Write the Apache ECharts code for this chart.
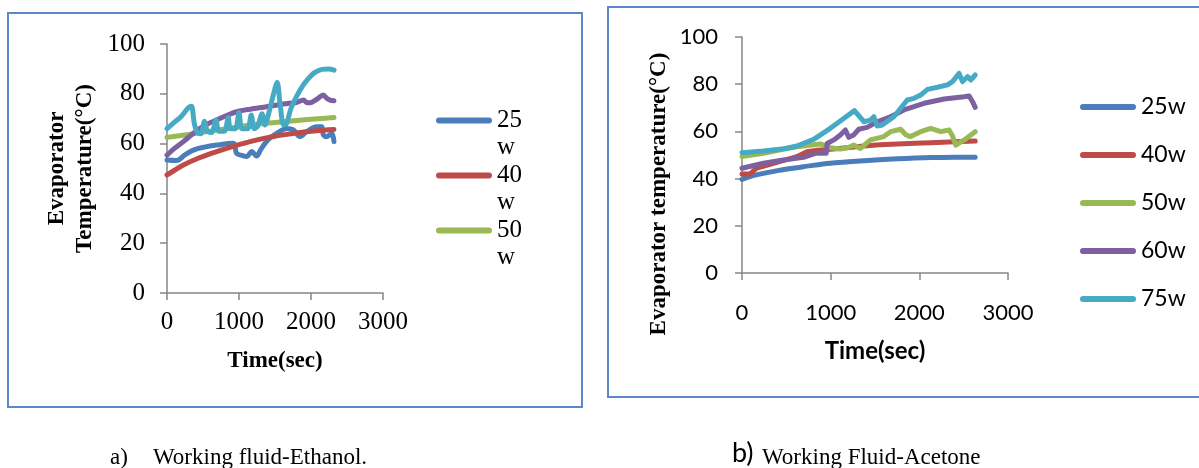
<!DOCTYPE html>
<html>
<head>
<meta charset="utf-8">
<script src="https://cdn.jsdelivr.net/npm/echarts@6/dist/echarts.min.js"></script>
<style>html,body{margin:0;padding:0;background:#fff;}#c{width:1199px;height:468px;}</style>
</head>
<body>
<div id="c"></div>
<script>
// ---- Data (time in s, temperature in °C) ----
const xTicks = [0, 1000, 2000, 3000];
const yTicks = [0, 20, 40, 60, 80, 100];
const ethanolNames = ['25 w', '40 w', '50 w', '60 w', '75 w'];
const acetoneNames = ['25w', '40w', '50w', '60w', '75w'];

const eth25 = [[0,53.4],[130,53.2],[250,55.5],[366,57.4],[520,58.6],[690,59.4],[921,60.1],[968,56],[1050,55.2],[1106,54.8],[1176,56.8],[1245,55],[1300,57.5],[1361,60.1],[1440,62.5],[1523,64.1],[1662,66.1],[1755,65.5],[1847,62.8],[1940,64.8],[2079,66.8],[2148,66.8],[2171,63.5],[2218,62.8],[2287,64.1],[2319,60.8]];
const eth40 = [[0,47.4],[100,49.2],[227,51.4],[450,54.3],[690,56.8],[920,58.9],[1153,60.8],[1380,62.3],[1616,63.5],[1850,64.5],[2079,65.2],[2319,65.7]];
const eth50 = [[0,62.5],[300,63.7],[600,65],[900,66.3],[1153,67.5],[1500,68.5],[1800,69.3],[2100,70],[2319,70.5]];
const eth60 = [[0,55.4],[100,58],[227,60.8],[340,63.5],[458,66.1],[570,68],[690,69.5],[820,71.2],[968,72.8],[1150,73.8],[1384,74.8],[1550,75.6],[1708,76.2],[1800,76.5],[1894,77.5],[1940,76.5],[1986,76.4],[2080,77.8],[2171,79.5],[2218,78.2],[2264,77.5],[2319,77.2]];
const eth75 = [[0,66],[100,68.5],[200,71],[300,74.5],[340,75],[380,68],[420,64.5],[470,64],[520,69],[560,65],[620,64.5],[680,69.5],[720,65],[800,65],[850,70.5],[880,66],[950,66],[1000,72.5],[1040,66],[1120,66],[1170,71.5],[1210,66],[1260,67],[1320,72],[1360,67.5],[1420,73],[1480,80],[1530,84.5],[1570,76],[1620,67.5],[1660,68],[1720,74],[1800,79],[1880,83],[1960,86],[2050,88.5],[2150,89.8],[2250,90],[2320,89.5]];

const ace25 = [[0,39.7],[100,41],[242,42.2],[420,43.5],[619,44.6],[800,45.6],[996,46.5],[1200,47.1],[1374,47.6],[1550,48],[1751,48.4],[1950,48.7],[2128,48.9],[2400,49],[2630,49]];
const ace40 = [[0,41.9],[91,42],[166,44.4],[355,46.5],[480,47.8],[619,49.3],[732,51.4],[850,52],[996,52.4],[1180,53.1],[1374,53.8],[1550,54.3],[1751,54.7],[1950,55],[2128,55.2],[2400,55.6],[2630,55.9]];
const ace50 = [[0,49.3],[242,50.7],[450,52.3],[619,53.5],[883,54.7],[996,53.1],[1109,52.5],[1200,53.2],[1260,54.2],[1336,52.8],[1449,56.4],[1600,57.8],[1675,59.9],[1789,60.9],[1850,58.5],[1902,57.8],[2015,59.9],[2128,61.3],[2242,59.9],[2336,60.6],[2374,58.1],[2411,54.2],[2506,56.4],[2630,59.9]];
const ace60 = [[0,44.4],[242,46.5],[450,47.8],[694,49],[826,50.7],[950,50.7],[960,54.9],[1040,56.5],[1109,58.5],[1166,60.6],[1204,57.5],[1260,58.5],[1317,60.9],[1411,61.7],[1525,64.1],[1675,66.2],[1826,69.1],[2053,71.9],[2279,73.7],[2506,74.7],[2562,75],[2600,72.6],[2630,70.2]];
const ace75 = [[0,51],[242,51.7],[450,52.5],[619,53.8],[808,56.6],[996,61.3],[1147,65.5],[1268,68.8],[1374,64.1],[1449,64.8],[1487,66.2],[1525,62.3],[1581,62.7],[1713,66.2],[1789,69.8],[1864,73.3],[1940,74],[2015,75.4],[2091,77.8],[2204,78.7],[2317,79.7],[2374,81.1],[2449,84.6],[2487,81.1],[2543,83.2],[2581,81.8],[2630,83.9]];

const colors = ['#4a7ebb', '#be4b48', '#98b954', '#7d60a0', '#46aac5'];
const ethanolData = [eth25, eth40, eth50, eth60, eth75];
const acetoneData = [ace25, ace40, ace50, ace60, ace75];
const smoothFlags = [0.35, 0.3, 0.3, 0.3, 0.3];
const smoothFlagsB = [0.3, false, false, false, false];

const serif = 'Liberation Serif, Times New Roman, serif';
const sans = 'Lato, Liberation Sans, sans-serif';
const axisGray = '#868686';
const plain = v => String(v);

function axisCommon() {
  return {
    type: 'value', min: 0,
    axisLine: { show: true, lineStyle: { color: axisGray, width: 1.5 } },
    axisTick: { show: true, inside: false, length: 7, lineStyle: { color: axisGray, width: 1.5 } },
    splitLine: { show: false }
  };
}

const series = [];
ethanolData.forEach((d, i) => series.push({
  name: ethanolNames[i], type: 'line', xAxisIndex: 0, yAxisIndex: 0, data: d,
  showSymbol: false, symbol: 'none', smooth: smoothFlags[i], color: colors[i],
  lineStyle: { width: 5, color: colors[i], cap: 'round', join: 'round' }
}));
acetoneData.forEach((d, i) => series.push({
  name: acetoneNames[i], type: 'line', xAxisIndex: 1, yAxisIndex: 1, data: d,
  showSymbol: false, symbol: 'none', smooth: smoothFlagsB[i], color: colors[i],
  lineStyle: { width: 5, color: colors[i], cap: 'round', join: 'round' }
}));

const barIcon = 'path://M3,0 H53 A3,3 0 0 1 53,6 H3 A3,3 0 0 1 3,0 Z';
const topBarIcon = 'path://M3,0 H53 A3,3 0 0 1 53,6 H3 A3,3 0 0 1 3,0 Z M28,33 L28.01,33 Z';

const chart = echarts.init(document.getElementById('c'), null, { renderer: 'canvas' });
chart.setOption({
  animation: false,
  backgroundColor: '#fff',
  grid: [
    { left: 167, top: 44, width: 216, height: 249, containLabel: false },
    { left: 742, top: 37, width: 266, height: 236, containLabel: false }
  ],
  xAxis: [
    Object.assign(axisCommon(), {
      gridIndex: 0, max: xTicks[xTicks.length - 1], interval: xTicks[1] - xTicks[0],
      name: 'Time(sec)', nameLocation: 'middle', nameGap: 57,
      nameTextStyle: { fontFamily: serif, fontWeight: 'bold', fontSize: 23, color: '#000' },
      axisLabel: { fontFamily: serif, fontSize: 25, color: '#000', margin: 17, formatter: plain }
    }),
    Object.assign(axisCommon(), {
      gridIndex: 1, max: xTicks[xTicks.length - 1], interval: xTicks[1] - xTicks[0],
      name: 'Time(sec)', nameLocation: 'middle', nameGap: 66,
      nameTextStyle: { fontFamily: sans, fontWeight: 'bold', fontSize: 24, color: '#000' },
      axisLabel: { fontFamily: sans, fontSize: 22, color: '#000', margin: 29, formatter: plain }
    })
  ],
  yAxis: [
    Object.assign(axisCommon(), {
      gridIndex: 0, max: yTicks[yTicks.length - 1], interval: yTicks[1] - yTicks[0],
      name: 'Evaporator\nTemperature(°C)', nameLocation: 'middle', nameGap: 68,
      nameTextStyle: { fontFamily: serif, fontWeight: 'bold', fontSize: 23, lineHeight: 28, color: '#000' },
      axisLabel: { fontFamily: serif, fontSize: 25, color: '#000', margin: 22, formatter: plain }
    }),
    Object.assign(axisCommon(), {
      gridIndex: 1, max: yTicks[yTicks.length - 1], interval: yTicks[1] - yTicks[0],
      name: 'Evaporator temperature(°C)', nameLocation: 'middle', nameGap: 71,
      nameTextStyle: { fontFamily: serif, fontWeight: 'bold', fontSize: 23, color: '#000', padding: [0, 78, 0, 0] },
      axisLabel: { fontFamily: sans, fontSize: 22, color: '#000', margin: 24, formatter: plain }
    })
  ],
  legend: [
    {
      orient: 'vertical', left: 431, top: 102, itemWidth: 56, itemHeight: 33, itemGap: 1,
      icon: topBarIcon, data: ethanolNames.slice(0, 3),
      formatter: n => n.replace(' ', '\n'),
      itemStyle: { borderWidth: 0 },
      textStyle: { fontFamily: serif, fontSize: 25, lineHeight: 27, color: '#000' }
    },
    {
      orient: 'vertical', left: 1075, top: 90, itemWidth: 56, itemHeight: 6, itemGap: 24,
      icon: barIcon, data: acetoneNames,
      itemStyle: { borderWidth: 0 },
      textStyle: { fontFamily: sans, fontSize: 23, lineHeight: 24, color: '#000' }
    }
  ],
  graphic: [
    { type: 'rect', shape: { x: 8, y: 13, width: 574, height: 394 }, style: { fill: 'none', stroke: '#5b87c8', lineWidth: 2 }, silent: true },
    { type: 'rect', shape: { x: 608, y: 7, width: 620, height: 390 }, style: { fill: 'none', stroke: '#5b87c8', lineWidth: 2 }, silent: true },
    { type: 'text', left: 110, top: 446, style: { text: 'a)', fontFamily: serif, fontSize: 23, fill: '#000' } },
    { type: 'text', left: 153, top: 446, style: { text: 'Working fluid-Ethanol.', fontFamily: serif, fontSize: 23, fill: '#000' } },
    { type: 'text', left: 732, top: 440, style: { text: 'b)', fontFamily: sans, fontSize: 27, fill: '#000' } },
    { type: 'text', left: 762, top: 446, style: { text: 'Working Fluid-Acetone', fontFamily: serif, fontSize: 23, fill: '#000' } }
  ],
  series: series
});
</script>
</body>
</html>
